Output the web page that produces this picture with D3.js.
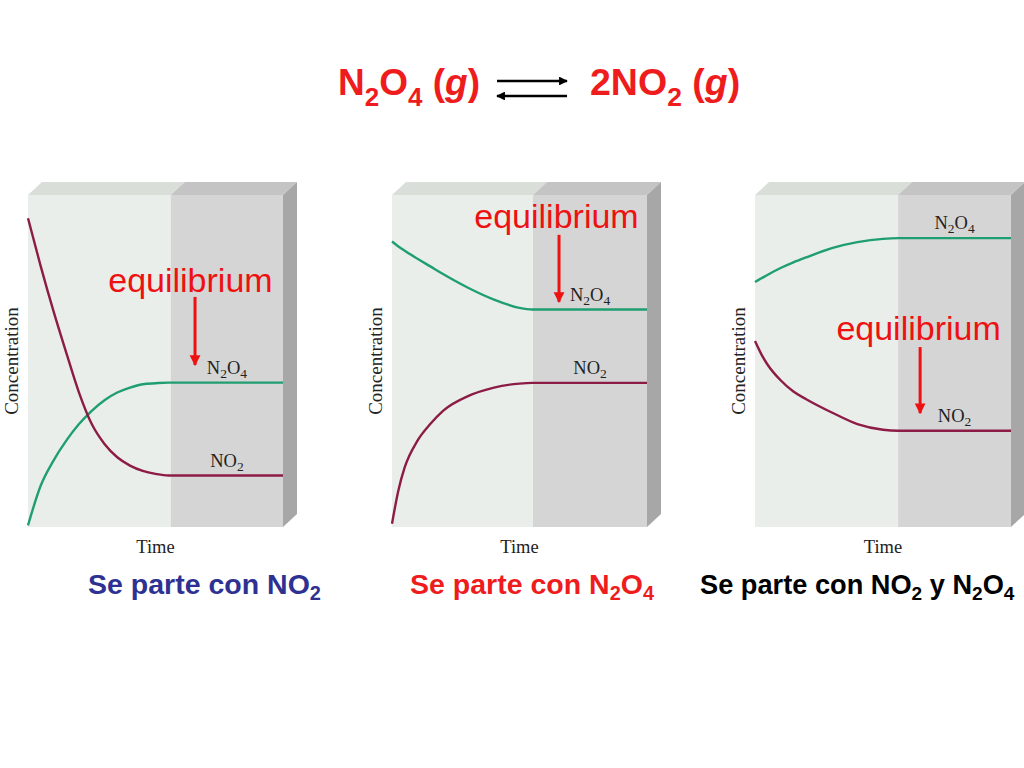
<!DOCTYPE html>
<html>
<head>
<meta charset="utf-8">
<script src="https://cdn.jsdelivr.net/npm/d3@7"></script>
<style>
  html, body { margin: 0; padding: 0; background: #ffffff; }
  svg { display: block; }
</style>
</head>
<body>
<svg id="chart" width="1024" height="768"></svg>
<script>
// ---------- DATA ----------
// Panel 1: starting with NO2
const time1 = [0, 0.5, 1.0, 1.5, 2.0, 2.5, 3.0, 3.5, 4.0, 4.5, 5.0, 5.5, 10];
const no2_1  = [9.3, 7.85, 6.5, 5.25, 4.05, 3.1, 2.5, 2.1, 1.85, 1.69, 1.6, 1.55, 1.55];
const n2o4_1 = [0.05, 1.25, 2.0, 2.6, 3.1, 3.5, 3.82, 4.05, 4.2, 4.3, 4.33, 4.35, 4.35];
// Panel 2: starting with N2O4
const time2 = [0, 0.25, 0.5, 1.0, 1.5, 2.0, 3.0, 4.0, 5.0, 5.5, 10];
const no2_2  = [0.1, 1.1, 1.8, 2.6, 3.1, 3.5, 3.95, 4.2, 4.32, 4.34, 4.34];
const n2o4_2 = [8.6, 8.45, 8.32, 8.08, 7.85, 7.62, 7.2, 6.85, 6.6, 6.55, 6.55];
// Panel 3: starting with NO2 and N2O4
const time3 = [0, 0.25, 0.5, 1.0, 1.5, 2.0, 3.0, 4.0, 5.0, 5.6, 10];
const no2_3  = [5.6, 5.2, 4.88, 4.42, 4.08, 3.85, 3.45, 3.1, 2.93, 2.9, 2.9];
const n2o4_3 = [7.38, 7.49, 7.6, 7.8, 7.97, 8.12, 8.4, 8.58, 8.68, 8.7, 8.7];

const eqTimes = [5.6, 5.53, 5.59];          // time at which equilibrium is reached
const subtitles = ["Se parte con NO2", "Se parte con N2O4", "Se parte con NO2 y N2O4"];
const axisLabels = ["Time", "Concentration"];
const speciesLabels = ["N2O4", "NO2"];
const eqLabel = "equilibrium";
// equilibrium annotation anchor in data units: [text t, text c, arrow t, arrow top c, arrow tip c]
const eqNotes = [
  [6.37, 7.08, 6.55, 6.93, 4.88],
  [6.45, 9.0, 6.55, 8.8, 6.78],
  [6.39, 5.63, 6.45, 5.42, 3.43]
];

// ---------- LAYOUT ----------
const svg = d3.select("#chart");
const frames = [
  { x0: 28, x1: 283 },
  { x0: 392, x1: 647 },
  { x0: 755, x1: 1011 }
];
const Y0 = 195, Y1 = 527, DX = 14, DY = 13;
const subColors = ["#2e3192", "#ee1c1c", "#000000"];
const subX = [88, 410, 700];
const subSizes = [28.5, 28.5, 27.2];

const series = [
  { t: time1, no2: no2_1, n2o4: n2o4_1 },
  { t: time2, no2: no2_2, n2o4: n2o4_2 },
  { t: time3, no2: no2_3, n2o4: n2o4_3 }
];

// ---------- HELPERS ----------
function chem(sel, parts, subSize, dyShift) {
  parts.forEach(([txt, type]) => {
    const ts = sel.append("tspan").text(txt);
    if (type === "s") ts.attr("font-size", subSize).attr("dy", dyShift);
    if (type === "i") ts.attr("font-style", "italic");
    if (type === "r") ts.attr("dy", -dyShift);
  });
}
function formulaParts(str) {
  const parts = [];
  let prevSub = false;
  for (let i = 0; i < str.length; i++) {
    const ch = str[i];
    const isDigit = /[0-9]/.test(ch);
    const prev = str[i - 1];
    const sub = isDigit && i > 0 && /[A-Za-z]/.test(prev);
    if (sub) { parts.push([ch, "s"]); prevSub = true; }
    else {
      if (prevSub) { parts.push([ch, "r"]); prevSub = false; }
      else parts.push([ch, "n"]);
    }
  }
  if (prevSub) parts.push(["", "r"]);
  return parts;
}

// ---------- TITLE ----------
const titleG = svg.append("g")
  .attr("font-family", "'Liberation Sans', Arial, sans-serif")
  .attr("font-weight", "bold")
  .attr("fill", "#ee1c1c");
const tl = titleG.append("text").attr("x", 338).attr("y", 95).attr("font-size", 37);
chem(tl, formulaParts("N2O4 (").concat([["g", "i"], [")", "n"]]), 26, 11);
const tr = titleG.append("text").attr("x", 590).attr("y", 95).attr("font-size", 37.5);
chem(tr, formulaParts("2NO2 (").concat([["g", "i"], [")", "n"]]), 26.5, 11);

const defs = svg.append("defs");
defs.append("marker").attr("id", "blkhead").attr("viewBox", "0 0 10 10")
  .attr("refX", 9).attr("refY", 5).attr("markerWidth", 4.5).attr("markerHeight", 3.4)
  .attr("orient", "auto")
  .append("path").attr("d", "M0,0 L10,5 L0,10 Z").attr("fill", "#000");
defs.append("marker").attr("id", "redhead").attr("viewBox", "0 0 10 10")
  .attr("refX", 9).attr("refY", 5).attr("markerWidth", 3.6).attr("markerHeight", 4)
  .attr("orient", "auto")
  .append("path").attr("d", "M0,0 L10,5 L0,10 Z").attr("fill", "#ee1111");

svg.append("line").attr("x1", 497).attr("y1", 81).attr("x2", 567).attr("y2", 81)
  .attr("stroke", "#000").attr("stroke-width", 2.6).attr("marker-end", "url(#blkhead)");
svg.append("line").attr("x1", 567).attr("y1", 96).attr("x2", 497).attr("y2", 96)
  .attr("stroke", "#000").attr("stroke-width", 2.6).attr("marker-end", "url(#blkhead)");

// ---------- PANELS ----------
frames.forEach((f, i) => {
  const x = d3.scaleLinear().domain([0, 10]).range([f.x0, f.x1]);
  const y = d3.scaleLinear().domain([0, 10]).range([Y1, Y0]);
  const g = svg.append("g");
  const xe = x(eqTimes[i]);

  // top face
  g.append("path").attr("d", `M${f.x0},${Y0} L${f.x0 + DX},${Y0 - DY} L${xe + DX},${Y0 - DY} L${xe},${Y0} Z`)
    .attr("fill", "#d9ded9");
  g.append("path").attr("d", `M${xe},${Y0} L${xe + DX},${Y0 - DY} L${f.x1 + DX},${Y0 - DY} L${f.x1},${Y0} Z`)
    .attr("fill", "#c4c4c4");
  // side face
  g.append("path").attr("d", `M${f.x1},${Y0} L${f.x1 + DX},${Y0 - DY} L${f.x1 + DX},${Y1 - DY} L${f.x1},${Y1} Z`)
    .attr("fill", "#a7a7a7");
  // front face
  g.append("rect").attr("x", f.x0).attr("y", Y0).attr("width", xe - f.x0).attr("height", Y1 - Y0)
    .attr("fill", "#eaeeea");
  g.append("rect").attr("x", xe).attr("y", Y0).attr("width", f.x1 - xe).attr("height", Y1 - Y0)
    .attr("fill", "#d5d5d5");

  // curves
  const s = series[i];
  const line = d3.line().x(d => x(d[0])).y(d => y(d[1])).curve(d3.curveMonotoneX);
  g.append("path").datum(s.t.map((t, k) => [t, s.n2o4[k]]))
    .attr("d", line).attr("fill", "none").attr("stroke", "#1f9e72").attr("stroke-width", 2.4);
  g.append("path").datum(s.t.map((t, k) => [t, s.no2[k]]))
    .attr("d", line).attr("fill", "none").attr("stroke", "#8c1c46").attr("stroke-width", 2.4);

  // species labels
  const lx = (xe + f.x1) / 2;
  const labelG = g.append("g").attr("font-family", "'Liberation Serif', 'Times New Roman', serif")
    .attr("font-size", 18.5).attr("fill", "#222").attr("text-anchor", "middle");
  const lastN = s.n2o4[s.n2o4.length - 1], lastR = s.no2[s.no2.length - 1];
  const t1 = labelG.append("text").attr("x", lx).attr("y", y(lastN) - 9);
  chem(t1, formulaParts(speciesLabels[0]), 13.5, 4);
  const t2 = labelG.append("text").attr("x", lx).attr("y", y(lastR) - 9);
  chem(t2, formulaParts(speciesLabels[1]), 13.5, 4);

  // axis labels
  g.append("text").attr("x", (f.x0 + f.x1) / 2).attr("y", 553)
    .attr("text-anchor", "middle").attr("font-family", "'Liberation Serif', 'Times New Roman', serif")
    .attr("font-size", 18.5).attr("fill", "#222").text(axisLabels[0]);
  g.append("text").attr("transform", `translate(${f.x0 - 10},${(Y0 + Y1) / 2}) rotate(-90)`)
    .attr("text-anchor", "middle").attr("font-family", "'Liberation Serif', 'Times New Roman', serif")
    .attr("font-size", 19).attr("fill", "#222").text(axisLabels[1]);

  // equilibrium annotation
  const n = eqNotes[i];
  g.append("text").attr("x", x(n[0])).attr("y", y(n[1])).attr("text-anchor", "middle")
    .attr("font-family", "'Liberation Sans', Arial, sans-serif").attr("font-size", 34)
    .attr("fill", "#ee1111").text(eqLabel);
  g.append("line").attr("x1", x(n[2])).attr("x2", x(n[2])).attr("y1", y(n[3])).attr("y2", y(n[4]))
    .attr("stroke", "#ee1111").attr("stroke-width", 3).attr("marker-end", "url(#redhead)");

  // subtitle
  const st = svg.append("text").attr("x", subX[i]).attr("y", 594)
    .attr("font-family", "'Liberation Sans', Arial, sans-serif").attr("font-weight", "bold")
    .attr("font-size", subSizes[i]).attr("fill", subColors[i]);
  chem(st, formulaParts(subtitles[i]), subSizes[i] * 0.7, 6);
});
</script>
</body>
</html>
